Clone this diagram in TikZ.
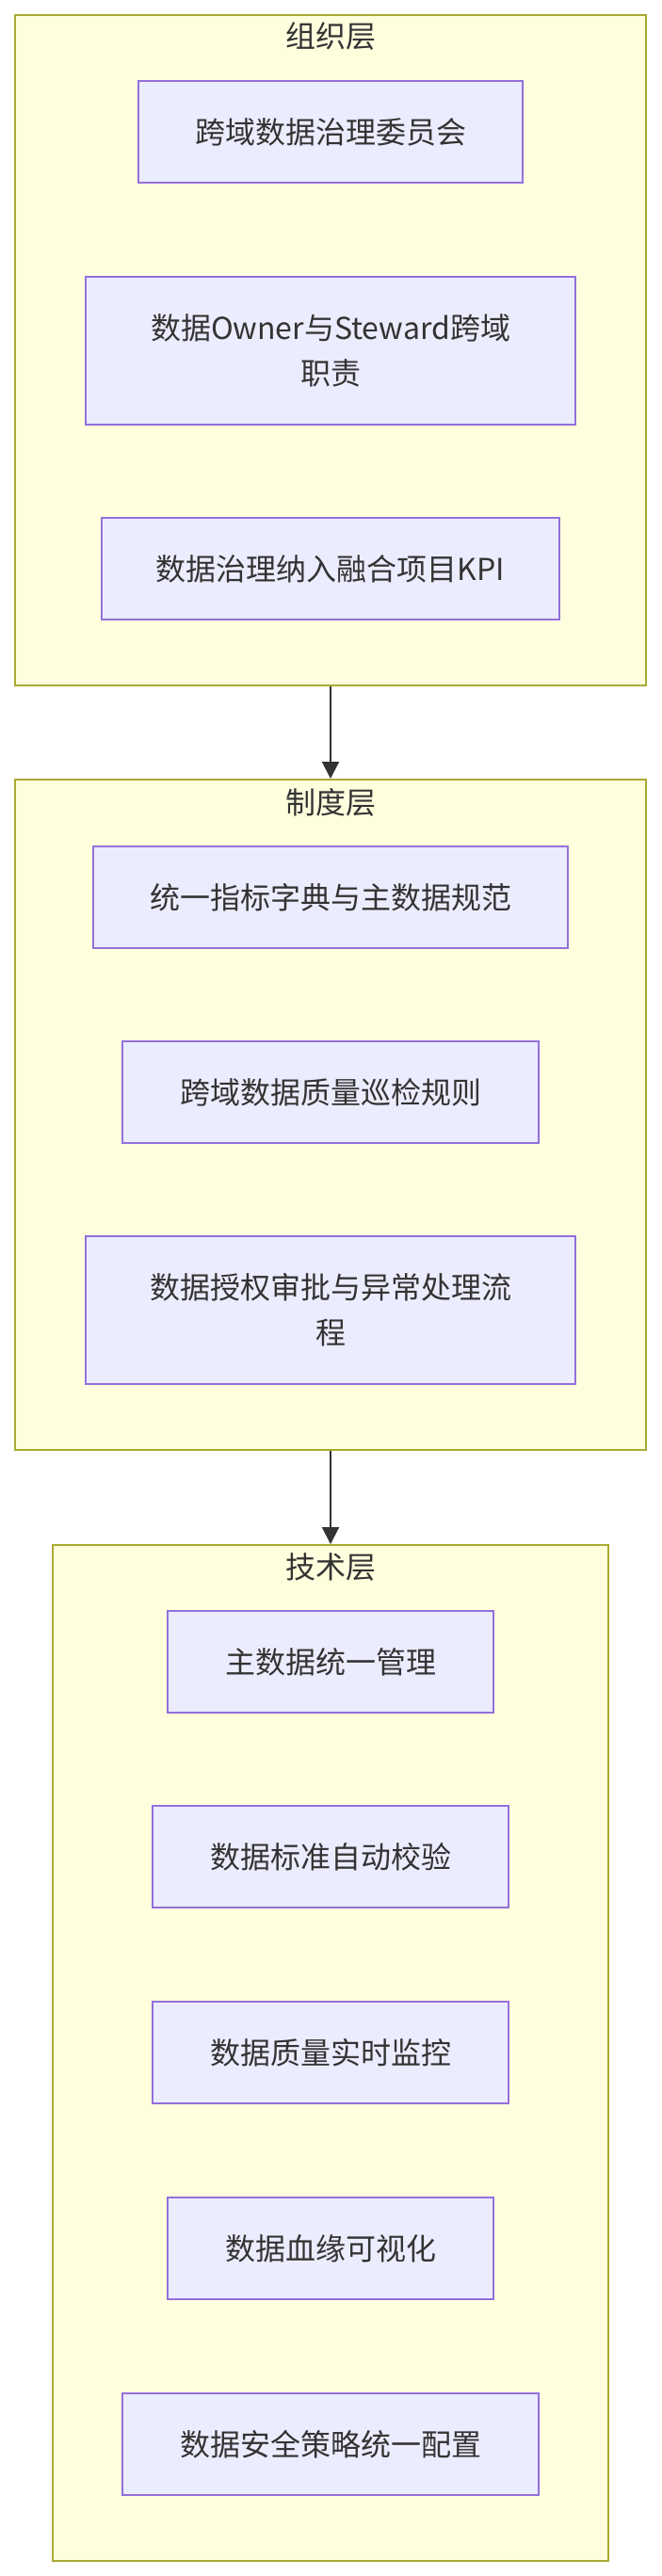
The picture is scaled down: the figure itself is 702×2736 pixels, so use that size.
\documentclass[tikz,border=0pt]{standalone}
\usepackage{fontspec}
\setmainfont{Noto Sans CJK SC}
\usepackage{xcolor}
\usetikzlibrary{arrows.meta, positioning}

\definecolor{clusterfill}{HTML}{FFFFDE}
\definecolor{clusterline}{HTML}{AAAA33}
\definecolor{nodefill}{HTML}{ECECFF}
\definecolor{nodeline}{HTML}{9370DB}
\definecolor{textgray}{HTML}{333333}

\begin{document}
\begin{tikzpicture}[
    x=0.5pt, y=-0.5pt,
    font=\fontsize{16pt}{24pt}\selectfont,
    text=textgray,
    cluster/.style={rectangle, draw=clusterline, fill=clusterfill, line width=1pt, minimum width=335pt},
    title/.style={inner sep=0pt, text=textgray},
    block/.style={rectangle, draw=nodeline, fill=nodefill, line width=1pt, align=center, minimum height=54pt},
    arrow/.style={draw=textgray, line width=1pt, -{Triangle[length=9pt, width=9pt]}}
]
\useasboundingbox (0,0) rectangle (702,2736);

% Layers
\node[cluster, minimum height=356pt] (org) at (351,372) {};
\node[cluster, minimum height=356pt] (rule) at (351,1184) {};
\node[cluster, minimum width=295pt, minimum height=539.5pt] (tech) at (351,2180.5) {};

\node[title] (orgtitle) at (351,38) {组织层};
\node[title] (ruletitle) at (351,852) {制度层};
\node[title] (techtitle) at (351,1664) {技术层};

% Organization layer
\node[block, minimum width=204pt] (committee) at (351,140) {跨域数据治理委员会};
\node[block, minimum width=260pt, minimum height=78.5pt] (owner) at (351,372) {数据Owner与Steward跨域\\职责};
\node[block, minimum width=243pt] (kpi) at (351,604) {数据治理纳入融合项目KPI};

% Rule layer
\node[block, minimum width=252pt] (dict) at (351,953) {统一指标字典与主数据规范};
\node[block, minimum width=221pt] (inspect) at (351,1160) {跨域数据质量巡检规则};
\node[block, minimum width=260pt, minimum height=78.5pt] (approve) at (351,1391) {数据授权审批与异常处理流\\程};

% Technology layer
\node[block, minimum width=173pt] (mdm) at (351,1765) {主数据统一管理};
\node[block, minimum width=189pt] (check) at (351,1972) {数据标准自动校验};
\node[block, minimum width=189pt] (monitor) at (351,2180) {数据质量实时监控};
\node[block, minimum width=173pt] (lineage) at (351,2388) {数据血缘可视化};
\node[block, minimum width=221pt] (security) at (351,2596) {数据安全策略统一配置};

% Arrows
\draw[arrow] (org) -- (rule);
\draw[arrow] (rule) -- (tech);

\end{tikzpicture}
\end{document}
